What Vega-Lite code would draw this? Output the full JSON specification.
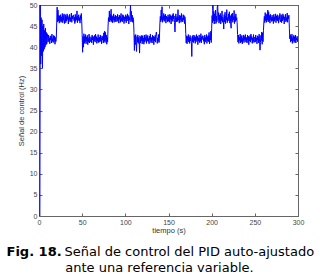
{
 "$schema": "https://vega.github.io/schema/vega-lite/v6.json",
 "width": 259, "height": 211,
 "autosize": {"type": "none"},
 "padding": {"left": 39, "top": 5, "right": 22, "bottom": 60},
 "background": "white",
 "config": {
  "view": {"stroke": "#666", "strokeWidth": 1},
  "axis": {"domainColor": "#666", "tickColor": "#666", "tickSize": -3, "labelFont": "Liberation Sans", "labelFontSize": 7, "labelColor": "#444", "titleFont": "Liberation Sans", "titleFontSize": 7.5, "titleFontWeight": "normal", "titleColor": "#333", "grid": false, "labelPadding": 5, "labelFlush": false, "labelOverlap": false}
 },
 "title": {"text": "ante una referencia variable.", "orient": "bottom", "anchor": "middle", "frame": "group", "dx": -9, "offset": 4, "font": "DejaVu Sans", "fontSize": 13, "fontWeight": "normal", "color": "#000"},
 "data": {"values": [
{"t":0,"v":0},{"t":0.5,"v":0},{"t":1,"v":0},{"t":1.5,"v":50},{"t":2,"v":36},{"t":2.5,"v":47},{"t":3,"v":38},{"t":3.5,"v":46.5},{"t":4,"v":35},{"t":4.5,"v":45},{"t":5,"v":39},{"t":5.5,"v":45.5},{"t":6,"v":39.5},{"t":6.5,"v":44},{"t":7,"v":40},{"t":7.5,"v":44.5},{"t":8,"v":40.5},{"t":8.5,"v":43.5},{"t":9,"v":40.8},{"t":9.5,"v":43.2},
{"t":10,"v":42.4},{"t":10.5,"v":41.2},{"t":11,"v":42.9},{"t":11.5,"v":41.5},{"t":12,"v":42.2},{"t":12.5,"v":40.8},{"t":13,"v":42.7},{"t":13.5,"v":41.7},{"t":14,"v":42.5},{"t":14.5,"v":41.0},{"t":15,"v":43.1},{"t":15.5,"v":41.4},{"t":16,"v":42.0},{"t":16.5,"v":41.1},{"t":17,"v":42.8},{"t":17.5,"v":41.6},{"t":18,"v":42.6},{"t":18.5,"v":40.7},{"t":19,"v":42.3},{"t":19.5,"v":41.3},
{"t":20,"v":42.0},{"t":20.5,"v":45.5},{"t":21,"v":49.5},{"t":21.5,"v":46.0},{"t":22,"v":48.8},{"t":22.5,"v":46.2},{"t":23,"v":47.6},{"t":23.5,"v":45.7},{"t":24,"v":47.4},{"t":24.5,"v":46.3},{"t":25,"v":47.7},{"t":25.5,"v":45.9},{"t":26,"v":47.2},{"t":26.5,"v":46.1},{"t":27,"v":48.0},{"t":27.5,"v":45.8},{"t":28,"v":47.5},{"t":28.5,"v":46.4},{"t":29,"v":47.9},{"t":29.5,"v":45.6},
{"t":30,"v":46.5},{"t":30.5,"v":47.7},{"t":31,"v":45.8},{"t":31.5,"v":47.3},{"t":32,"v":46.2},{"t":32.5,"v":47.9},{"t":33,"v":46.6},{"t":33.5,"v":47.5},{"t":34,"v":45.5},{"t":34.5,"v":47.1},{"t":35,"v":46.4},{"t":35.5,"v":47.8},{"t":36,"v":46.0},{"t":36.5,"v":47.0},{"t":37,"v":46.3},{"t":37.5,"v":48.1},{"t":38,"v":45.9},{"t":38.5,"v":47.4},{"t":39,"v":46.7},{"t":39.5,"v":47.6},
{"t":40,"v":47.6},{"t":40.5,"v":46.3},{"t":41,"v":47.1},{"t":41.5,"v":45.6},{"t":42,"v":47.8},{"t":42.5,"v":46.1},{"t":43,"v":47.2},{"t":43.5,"v":46.5},{"t":44,"v":48.6},{"t":44.5,"v":45.8},{"t":45,"v":47.4},{"t":45.5,"v":46.4},{"t":46,"v":47.7},{"t":46.5,"v":46.2},{"t":47,"v":47.0},{"t":47.5,"v":45.7},{"t":48,"v":47.5},{"t":48.5,"v":46.6},{"t":49,"v":48.0},{"t":49.5,"v":46.0},
{"t":50,"v":43.0},{"t":50.5,"v":38.8},{"t":51,"v":42.5},{"t":51.5,"v":40.0},{"t":52,"v":43.2},{"t":52.5,"v":40.9},{"t":53,"v":42.6},{"t":53.5,"v":41.3},{"t":54,"v":43.0},{"t":54.5,"v":40.8},{"t":55,"v":42.4},{"t":55.5,"v":41.5},{"t":56,"v":42.8},{"t":56.5,"v":40.6},{"t":57,"v":42.1},{"t":57.5,"v":41.2},{"t":58,"v":43.1},{"t":58.5,"v":41.0},{"t":59,"v":42.5},{"t":59.5,"v":41.4},
{"t":60,"v":41.3},{"t":60.5,"v":42.3},{"t":61,"v":41.0},{"t":61.5,"v":42.9},{"t":62,"v":41.7},{"t":62.5,"v":42.6},{"t":63,"v":40.6},{"t":63.5,"v":42.4},{"t":64,"v":41.5},{"t":64.5,"v":42.8},{"t":65,"v":41.2},{"t":65.5,"v":43.1},{"t":66,"v":41.8},{"t":66.5,"v":42.5},{"t":67,"v":40.9},{"t":67.5,"v":42.2},{"t":68,"v":41.4},{"t":68.5,"v":43.0},{"t":69,"v":41.1},{"t":69.5,"v":42.1},
{"t":70,"v":42.4},{"t":70.5,"v":41.2},{"t":71,"v":42.9},{"t":71.5,"v":41.5},{"t":72,"v":42.2},{"t":72.5,"v":40.8},{"t":73,"v":42.7},{"t":73.5,"v":41.7},{"t":74,"v":42.5},{"t":74.5,"v":41.0},{"t":75,"v":43.4},{"t":75.5,"v":41.4},{"t":76,"v":43.8},{"t":76.5,"v":41.1},{"t":77,"v":43.5},{"t":77.5,"v":41.6},{"t":78,"v":42.9},{"t":78.5,"v":40.7},{"t":79,"v":42.3},{"t":79.5,"v":41.3},
{"t":80,"v":45.0},{"t":80.5,"v":47.0},{"t":81,"v":46.2},{"t":81.5,"v":48.6},{"t":82,"v":46.0},{"t":82.5,"v":47.8},{"t":83,"v":46.4},{"t":83.5,"v":49.0},{"t":84,"v":46.1},{"t":84.5,"v":47.5},{"t":85,"v":45.8},{"t":85.5,"v":47.3},{"t":86,"v":46.5},{"t":86.5,"v":47.9},{"t":87,"v":45.9},{"t":87.5,"v":47.2},{"t":88,"v":46.3},{"t":88.5,"v":47.6},{"t":89,"v":46.0},{"t":89.5,"v":47.4},
{"t":90,"v":47.3},{"t":90.5,"v":46.1},{"t":91,"v":47.8},{"t":91.5,"v":46.4},{"t":92,"v":47.1},{"t":92.5,"v":45.7},{"t":93,"v":47.6},{"t":93.5,"v":46.6},{"t":94,"v":47.4},{"t":94.5,"v":45.9},{"t":95,"v":48.0},{"t":95.5,"v":46.3},{"t":96,"v":46.9},{"t":96.5,"v":46.0},{"t":97,"v":47.7},{"t":97.5,"v":46.5},{"t":98,"v":47.5},{"t":98.5,"v":45.6},{"t":99,"v":47.2},{"t":99.5,"v":46.2},
{"t":100,"v":46.5},{"t":100.5,"v":47.7},{"t":101,"v":45.8},{"t":101.5,"v":47.3},{"t":102,"v":46.2},{"t":102.5,"v":47.9},{"t":103,"v":46.6},{"t":103.5,"v":47.5},{"t":104,"v":45.5},{"t":104.5,"v":47.1},{"t":105,"v":46.4},{"t":105.5,"v":47.8},{"t":106,"v":50.0},{"t":106.5,"v":46.0},{"t":107,"v":48.5},{"t":107.5,"v":46.3},{"t":108,"v":47.6},{"t":108.5,"v":45.9},{"t":109,"v":47.0},{"t":109.5,"v":46.5},
{"t":110,"v":43.5},{"t":110.5,"v":39.2},{"t":111,"v":42.8},{"t":111.5,"v":40.6},{"t":112,"v":43.0},{"t":112.5,"v":41.0},{"t":113,"v":39.0},{"t":113.5,"v":42.5},{"t":114,"v":41.2},{"t":114.5,"v":42.9},{"t":115,"v":40.9},{"t":115.5,"v":42.3},{"t":116,"v":41.4},{"t":116.5,"v":38.6},{"t":117,"v":42.7},{"t":117.5,"v":41.0},{"t":118,"v":42.4},{"t":118.5,"v":41.5},{"t":119,"v":42.8},{"t":119.5,"v":40.8},
{"t":120,"v":42.7},{"t":120.5,"v":41.4},{"t":121,"v":42.2},{"t":121.5,"v":40.7},{"t":122,"v":42.9},{"t":122.5,"v":41.2},{"t":123,"v":42.3},{"t":123.5,"v":41.6},{"t":124,"v":43.0},{"t":124.5,"v":40.9},{"t":125,"v":42.5},{"t":125.5,"v":41.5},{"t":126,"v":42.8},{"t":126.5,"v":41.3},{"t":127,"v":42.1},{"t":127.5,"v":40.8},{"t":128,"v":42.6},{"t":128.5,"v":41.7},{"t":129,"v":43.1},{"t":129.5,"v":41.1},
{"t":130,"v":41.3},{"t":130.5,"v":42.3},{"t":131,"v":41.0},{"t":131.5,"v":42.9},{"t":132,"v":41.7},{"t":132.5,"v":42.6},{"t":133,"v":40.6},{"t":133.5,"v":42.4},{"t":134,"v":41.5},{"t":134.5,"v":42.8},{"t":135,"v":41.2},{"t":135.5,"v":43.1},{"t":136,"v":43.6},{"t":136.5,"v":42.5},{"t":137,"v":40.9},{"t":137.5,"v":42.2},{"t":138,"v":41.4},{"t":138.5,"v":43.0},{"t":139,"v":41.1},{"t":139.5,"v":42.1},
{"t":140,"v":45.5},{"t":140.5,"v":47.3},{"t":141,"v":46.0},{"t":141.5,"v":48.8},{"t":142,"v":46.4},{"t":142.5,"v":49.6},{"t":143,"v":45.9},{"t":143.5,"v":47.2},{"t":144,"v":46.5},{"t":144.5,"v":48.0},{"t":145,"v":46.1},{"t":145.5,"v":47.5},{"t":146,"v":46.3},{"t":146.5,"v":47.8},{"t":147,"v":45.7},{"t":147.5,"v":47.4},{"t":148,"v":46.6},{"t":148.5,"v":47.1},{"t":149,"v":46.0},{"t":149.5,"v":47.7},
{"t":150,"v":46.2},{"t":150.5,"v":47.2},{"t":151,"v":45.9},{"t":151.5,"v":47.8},{"t":152,"v":46.6},{"t":152.5,"v":47.5},{"t":153,"v":45.5},{"t":153.5,"v":47.3},{"t":154,"v":46.4},{"t":154.5,"v":47.7},{"t":155,"v":46.1},{"t":155.5,"v":48.0},{"t":156,"v":46.7},{"t":156.5,"v":47.4},{"t":157,"v":45.8},{"t":157.5,"v":43.6},{"t":158,"v":46.3},{"t":158.5,"v":47.9},{"t":159,"v":46.0},{"t":159.5,"v":47.0},
{"t":160,"v":47.3},{"t":160.5,"v":46.1},{"t":161,"v":48.9},{"t":161.5,"v":46.4},{"t":162,"v":47.1},{"t":162.5,"v":45.7},{"t":163,"v":47.6},{"t":163.5,"v":46.6},{"t":164,"v":47.4},{"t":164.5,"v":45.9},{"t":165,"v":48.0},{"t":165.5,"v":46.3},{"t":166,"v":46.9},{"t":166.5,"v":46.0},{"t":167,"v":47.7},{"t":167.5,"v":46.5},{"t":168,"v":47.5},{"t":168.5,"v":45.6},{"t":169,"v":47.2},{"t":169.5,"v":46.2},
{"t":170,"v":43.2},{"t":170.5,"v":41.0},{"t":171,"v":42.7},{"t":171.5,"v":40.8},{"t":172,"v":42.5},{"t":172.5,"v":41.6},{"t":173,"v":43.0},{"t":173.5,"v":41.2},{"t":174,"v":42.4},{"t":174.5,"v":40.9},{"t":175,"v":42.8},{"t":175.5,"v":41.5},{"t":176,"v":42.2},{"t":176.5,"v":41.0},{"t":177,"v":37.8},{"t":177.5,"v":42.6},{"t":178,"v":41.3},{"t":178.5,"v":42.9},{"t":179,"v":41.1},{"t":179.5,"v":42.3},
{"t":180,"v":41.6},{"t":180.5,"v":42.8},{"t":181,"v":40.9},{"t":181.5,"v":42.4},{"t":182,"v":41.3},{"t":182.5,"v":43.0},{"t":183,"v":41.7},{"t":183.5,"v":42.6},{"t":184,"v":40.6},{"t":184.5,"v":42.2},{"t":185,"v":41.5},{"t":185.5,"v":42.9},{"t":186,"v":41.1},{"t":186.5,"v":42.1},{"t":187,"v":41.4},{"t":187.5,"v":43.2},{"t":188,"v":41.0},{"t":188.5,"v":42.5},{"t":189,"v":41.8},{"t":189.5,"v":42.7},
{"t":190,"v":42.7},{"t":190.5,"v":41.4},{"t":191,"v":42.2},{"t":191.5,"v":40.7},{"t":192,"v":42.9},{"t":192.5,"v":41.2},{"t":193,"v":42.3},{"t":193.5,"v":41.6},{"t":194,"v":43.0},{"t":194.5,"v":40.9},{"t":195,"v":42.5},{"t":195.5,"v":41.5},{"t":196,"v":42.8},{"t":196.5,"v":41.3},{"t":197,"v":43.5},{"t":197.5,"v":40.8},{"t":198,"v":42.6},{"t":198.5,"v":41.7},{"t":199,"v":43.8},{"t":199.5,"v":41.1},
{"t":200,"v":44.5},{"t":200.5,"v":47.5},{"t":201,"v":45.8},{"t":201.5,"v":50.0},{"t":202,"v":46.2},{"t":202.5,"v":48.5},{"t":203,"v":45.5},{"t":203.5,"v":47.9},{"t":204,"v":46.3},{"t":204.5,"v":48.8},{"t":205,"v":45.6},{"t":205.5,"v":47.4},{"t":206,"v":46.0},{"t":206.5,"v":49.5},{"t":207,"v":50.0},{"t":207.5,"v":46.4},{"t":208,"v":48.2},{"t":208.5,"v":45.7},{"t":209,"v":47.6},{"t":209.5,"v":46.1},
{"t":210,"v":48.0},{"t":210.5,"v":45.5},{"t":211,"v":47.4},{"t":211.5,"v":46.3},{"t":212,"v":48.6},{"t":212.5,"v":45.9},{"t":213,"v":47.1},{"t":213.5,"v":46.5},{"t":214,"v":44.3},{"t":214.5,"v":47.7},{"t":215,"v":46.0},{"t":215.5,"v":48.3},{"t":216,"v":45.6},{"t":216.5,"v":47.3},{"t":217,"v":46.4},{"t":217.5,"v":48.9},{"t":218,"v":45.8},{"t":218.5,"v":47.0},{"t":219,"v":46.2},{"t":219.5,"v":47.9},
{"t":220,"v":46.6},{"t":220.5,"v":48.4},{"t":221,"v":45.7},{"t":221.5,"v":47.5},{"t":222,"v":46.0},{"t":222.5,"v":44.5},{"t":223,"v":47.8},{"t":223.5,"v":46.3},{"t":224,"v":48.1},{"t":224.5,"v":45.9},{"t":225,"v":47.2},{"t":225.5,"v":46.5},{"t":226,"v":48.7},{"t":226.5,"v":45.6},{"t":227,"v":47.4},{"t":227.5,"v":46.1},{"t":228,"v":47.9},{"t":228.5,"v":46.4},{"t":229,"v":47.0},{"t":229.5,"v":45.8},
{"t":230,"v":43.0},{"t":230.5,"v":41.2},{"t":231,"v":42.9},{"t":231.5,"v":40.9},{"t":232,"v":42.4},{"t":232.5,"v":41.6},{"t":233,"v":43.1},{"t":233.5,"v":41.0},{"t":234,"v":42.6},{"t":234.5,"v":41.3},{"t":235,"v":42.8},{"t":235.5,"v":40.8},{"t":236,"v":42.2},{"t":236.5,"v":41.5},{"t":237,"v":42.9},{"t":237.5,"v":41.1},{"t":238,"v":42.5},{"t":238.5,"v":41.7},{"t":239,"v":43.0},{"t":239.5,"v":41.2},
{"t":240,"v":41.3},{"t":240.5,"v":42.3},{"t":241,"v":41.0},{"t":241.5,"v":42.9},{"t":242,"v":41.7},{"t":242.5,"v":42.6},{"t":243,"v":40.6},{"t":243.5,"v":42.4},{"t":244,"v":41.5},{"t":244.5,"v":42.8},{"t":245,"v":41.2},{"t":245.5,"v":43.1},{"t":246,"v":41.8},{"t":246.5,"v":42.5},{"t":247,"v":40.9},{"t":247.5,"v":42.2},{"t":248,"v":41.4},{"t":248.5,"v":43.0},{"t":249,"v":41.1},{"t":249.5,"v":42.1},
{"t":250,"v":42.4},{"t":250.5,"v":41.2},{"t":251,"v":42.9},{"t":251.5,"v":41.5},{"t":252,"v":42.2},{"t":252.5,"v":40.8},{"t":253,"v":42.7},{"t":253.5,"v":41.7},{"t":254,"v":42.5},{"t":254.5,"v":41.0},{"t":255,"v":43.1},{"t":255.5,"v":41.4},{"t":256,"v":39.3},{"t":256.5,"v":41.1},{"t":257,"v":42.8},{"t":257.5,"v":41.6},{"t":258,"v":43.6},{"t":258.5,"v":40.7},{"t":259,"v":43.4},{"t":259.5,"v":41.3},
{"t":260,"v":44.0},{"t":260.5,"v":46.0},{"t":261,"v":47.3},{"t":261.5,"v":45.8},{"t":262,"v":48.2},{"t":262.5,"v":46.3},{"t":263,"v":47.6},{"t":263.5,"v":45.9},{"t":264,"v":47.9},{"t":264.5,"v":46.4},{"t":265,"v":48.8},{"t":265.5,"v":46.0},{"t":266,"v":48.4},{"t":266.5,"v":46.2},{"t":267,"v":47.5},{"t":267.5,"v":45.7},{"t":268,"v":47.8},{"t":268.5,"v":46.5},{"t":269,"v":47.1},{"t":269.5,"v":46.1},
{"t":270,"v":47.6},{"t":270.5,"v":46.3},{"t":271,"v":47.1},{"t":271.5,"v":45.6},{"t":272,"v":47.8},{"t":272.5,"v":46.1},{"t":273,"v":47.2},{"t":273.5,"v":46.5},{"t":274,"v":47.9},{"t":274.5,"v":45.8},{"t":275,"v":47.4},{"t":275.5,"v":46.4},{"t":276,"v":47.7},{"t":276.5,"v":46.2},{"t":277,"v":47.0},{"t":277.5,"v":45.7},{"t":278,"v":47.5},{"t":278.5,"v":46.6},{"t":279,"v":48.0},{"t":279.5,"v":46.0},
{"t":280,"v":46.5},{"t":280.5,"v":47.7},{"t":281,"v":45.8},{"t":281.5,"v":47.3},{"t":282,"v":46.2},{"t":282.5,"v":47.9},{"t":283,"v":46.6},{"t":283.5,"v":47.5},{"t":284,"v":45.5},{"t":284.5,"v":47.1},{"t":285,"v":46.4},{"t":285.5,"v":47.8},{"t":286,"v":46.0},{"t":286.5,"v":47.0},{"t":287,"v":46.3},{"t":287.5,"v":48.1},{"t":288,"v":45.9},{"t":288.5,"v":47.4},{"t":289,"v":46.7},{"t":289.5,"v":47.6},
{"t":290,"v":44.5},{"t":290.5,"v":42.0},{"t":291,"v":43.0},{"t":291.5,"v":41.2},{"t":292,"v":42.6},{"t":292.5,"v":41.5},{"t":293,"v":43.1},{"t":293.5,"v":40.9},{"t":294,"v":42.3},{"t":294.5,"v":41.6},{"t":295,"v":42.8},{"t":295.5,"v":41.1},{"t":296,"v":42.5},{"t":296.5,"v":41.4},{"t":297,"v":42.9},{"t":297.5,"v":41.0},{"t":298,"v":42.2},{"t":298.5,"v":41.7},{"t":299,"v":42.6},{"t":299.5,"v":41.3},{"t":300,"v":42.0}
 ]},
 "layer": [
  {"mark": {"type": "line", "color": "#0000ff", "strokeWidth": 1, "clip": true},
   "encoding": {
    "x": {"field": "t", "type": "quantitative", "scale": {"domain": [0, 300], "nice": false}, "axis": {"orient": "bottom", "values": [0, 50, 100, 150, 200, 250, 300], "title": "tiempo (s)", "titlePadding": 1}},
    "y": {"field": "v", "type": "quantitative", "scale": {"domain": [0, 50], "nice": false, "zero": false}, "axis": {"orient": "left", "values": [0, 5, 10, 15, 20, 25, 30, 35, 40, 45, 50], "title": "Señal de control (Hz)", "titlePadding": 4}}
   }},
  {"mark": {"type": "line", "opacity": 0},
   "encoding": {
    "x": {"field": "t", "type": "quantitative", "axis": {"orient": "top", "values": [0, 50, 100, 150, 200, 250, 300], "labels": false, "title": "Fig. 18.", "titleX": -33, "titleY": 250, "titleAlign": "left", "titleAnchor": null, "titleBaseline": "alphabetic", "titleFont": "DejaVu Sans", "titleFontSize": 13, "titleFontWeight": "bold", "titleColor": "#000", "titleAngle": 0}},
    "y": {"field": "v", "type": "quantitative", "axis": {"orient": "right", "values": [0, 5, 10, 15, 20, 25, 30, 35, 40, 45, 50], "labels": false, "title": "Señal de control del PID auto-ajustado", "titleX": -234, "titleY": 250, "titleAlign": "left", "titleAnchor": null, "titleBaseline": "alphabetic", "titleFont": "DejaVu Sans", "titleFontSize": 13, "titleFontWeight": "normal", "titleColor": "#000", "titleAngle": 0}}
   }}
 ],
 "resolve": {"axis": {"x": "independent", "y": "independent"}}
}
